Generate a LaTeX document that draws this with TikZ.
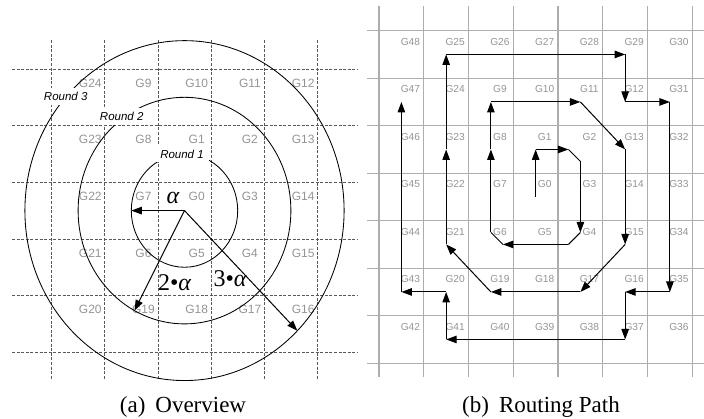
\documentclass[tikz,border=0pt]{standalone}
\usepackage{fontspec}
\setmainfont{Liberation Serif}
\setsansfont{Liberation Sans}
\usetikzlibrary{arrows.meta,calc}
\begin{document}
\begin{tikzpicture}[x=1pt,y=-1pt,
  gridA/.style={draw=black!65, dash pattern=on 3pt off 1.6pt, line width=0.85pt},
  gridB/.style={draw=black!32, line width=1.1pt},
  labA/.style={font=\sffamily\fontsize{12}{12}\selectfont, text=black!42, inner sep=0pt},
  labB/.style={font=\sffamily\fontsize{10.2}{10.2}\selectfont, text=black!42, inner sep=0pt},
  roundlab/.style={font=\sffamily\itshape\fontsize{11.5}{11.5}\selectfont, fill=white, inner xsep=5pt, inner ysep=4pt},
  ring/.style={draw=black, line width=0.85pt},
  arr/.style={-{Triangle[length=10.5pt,width=7.5pt]}, line width=1pt},
  seg/.style={line width=1pt},
  capt/.style={font=\fontsize{23}{23}\selectfont, inner sep=0pt, anchor=base},
  greek/.style={font=\fontsize{24}{24}\selectfont, inner sep=0pt}]
\useasboundingbox (0,0) rectangle (704,419);

% ---------------- panel (a) ----------------
\foreach \i in {0,...,5}
  \draw[gridA] (51.7+53.2*\i,40) -- (51.7+53.2*\i,380);
\foreach \j in {0,...,5}
  \draw[gridA] (12,69+56.65*\j) -- (358,69+56.65*\j);

\foreach \row [count=\j from 0] in {{G24,G9,G10,G11,G12},{G23,G8,G1,G2,G13},{G22,G7,G0,G3,G14},{G21,G6,G5,G4,G15},{G20,G19,G18,G17,G16}}
  \foreach \lab [count=\i from 0] in \row
    \node[labA] (a\lab) at (90.3+53.2*\i, 83+56.65*\j) {\lab};

\coordinate (O) at (184.5,210.6);
\draw[ring] (O) ellipse [x radius=53.2pt, y radius=56.65pt];
\draw[ring] (O) ellipse [x radius=106.4pt, y radius=113.3pt];
\draw[ring] (O) ellipse [x radius=159.6pt, y radius=169.95pt];

\node[roundlab] (r3) at (65.7,96.7) {Round 3};
\node[roundlab] (r2) at (121.7,116.7) {Round 2};
\node[roundlab] (r1) at (182,154) {Round 1};

\coordinate (A1) at ($(O)+(-53.2,0)$);
\coordinate (A2) at ($(O)+(-50.0,100.0)$);
\coordinate (A3) at ($(O)+(112.9,120.2)$);
\draw[arr] (O) -- (A1);
\draw[arr] (O) -- (A2);
\draw[arr] (O) -- (A3);

\node[greek] (al1) at (173,198) {\itshape α};
\node[greek] (al2) at (174.5,283) {2•\itshape α};
\node[greek] (al3) at (230,279) {3•\itshape α};

\node[capt] (capa) at (183,412) {(a)\hspace{10pt}Overview};

% ---------------- panel (b) ----------------
\foreach \i in {0,...,7}
  \draw[gridB] (379+44.75*\i,6) -- (379+44.75*\i,377);
\foreach \j in {0,...,7}
  \draw[gridB] (367,30.7+47.5*\j) -- (704,30.7+47.5*\j);

\foreach \row [count=\j from 0] in {{G48,G25,G26,G27,G28,G29,G30},{G47,G24,G9,G10,G11,G12,G31},{G46,G23,G8,G1,G2,G13,G32},{G45,G22,G7,G0,G3,G14,G33},{G44,G21,G6,G5,G4,G15,G34},{G43,G20,G19,G18,G17,G16,G35},{G42,G41,G40,G39,G38,G37,G36}}
  \foreach \lab [count=\i from 0] in \row
    \node[labB] (b\lab) at (410.4+44.75*\i, 41.7+47.5*\j) {\lab};

\foreach \i in {0,...,6}
  \foreach \j in {0,...,6}
    \coordinate (p\i\j) at (401.4+44.75*\i, 54.45+47.5*\j);

\coordinate (q1) at ($(p42)+(-12,0)$);
\coordinate (q2) at ($(p42)+(0,12)$);
\coordinate (q3) at ($(p44)+(0,-12)$);
\coordinate (q4) at ($(p44)+(-12,0)$);
\coordinate (q5) at ($(p24)+(12,0)$);
\coordinate (q6) at ($(p24)+(0,-12)$);

\draw[arr] (p33) -- (p32);
\draw[arr] (p32) -- (q1);
\draw[seg] (q1) -- (q2);
\draw[arr] (q2) -- (q3);
\draw[seg] (q3) -- (q4);
\draw[arr] (q4) -- (q5);
\draw[seg] (q5) -- (q6);
\draw[arr] (q6) -- (p22);
\foreach \s/\e in {p22/p21, p21/p41, p41/p52, p52/p54, p54/p45, p45/p25, p25/p14, p14/p12, p12/p10, p10/p50, p50/p51, p51/p61, p61/p65, p65/p55, p55/p56, p56/p16, p16/p15, p15/p05, p05/p01}
  \draw[arr] (\s) -- (\e);

\node[capt] (capb) at (541,412) {(b)\hspace{10pt}Routing Path};
\end{tikzpicture}
\end{document}
